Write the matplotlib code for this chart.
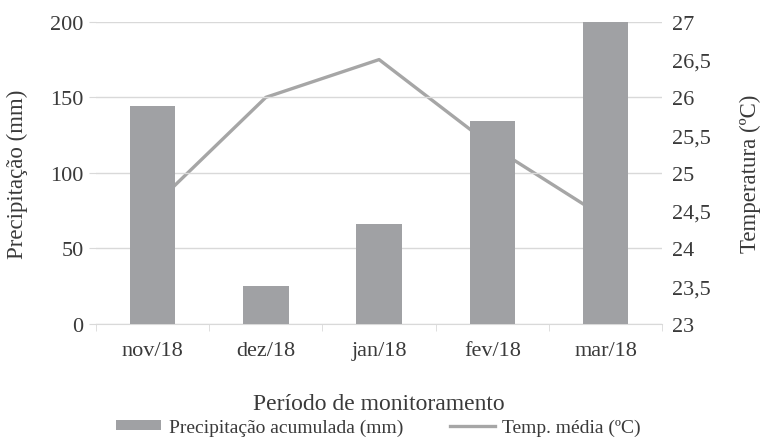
import numpy as np
import matplotlib
matplotlib.use("Agg")
import matplotlib.pyplot as plt
from matplotlib.ticker import FuncFormatter

plt.rcParams['font.family'] = ['Liberation Serif', 'DejaVu Serif']

# dados
meses = ['nov/18', 'dez/18', 'jan/18', 'fev/18', 'mar/18']
precip = [144, 25, 66, 134, 200]
temp = [24.55, 26.0, 26.5, 25.35, 24.4]

cor_barra = '#A0A1A4'
cor_linha = '#A6A6A6'
cor_texto = '#3A3A3A'

fig = plt.figure(figsize=(7.62, 4.39), dpi=100)
ax = fig.add_axes([0.126, 0.260, 0.743, 0.688])
ax2 = ax.twinx()

x = np.arange(len(meses))
ax.bar(x, precip, width=0.4, color=cor_barra, zorder=3, label='Precipitação acumulada (mm)')
ax2.plot(x, temp, color=cor_linha, lw=2.4, zorder=2, label='Temp. média (ºC)')

ax.set_zorder(ax2.get_zorder() + 1)
ax.patch.set_visible(False)

ax.set_xlim(-0.5, len(meses) - 0.5)
ax.set_ylim(0, 200)
ax.set_yticks([0, 50, 100, 150, 200])
ax2.set_ylim(23, 27)
ax2.set_yticks(np.arange(23, 27.01, 0.5))
ax2.yaxis.set_major_formatter(FuncFormatter(lambda v, p: ('%g' % v).replace('.', ',')))

ax.grid(axis='y', color='#D9D9D9', lw=1, zorder=0)
for a in (ax, ax2):
    for s in a.spines.values():
        s.set_visible(False)
ax.spines['bottom'].set_visible(True)
ax.spines['bottom'].set_color('#D9D9D9')

ax.set_xticks(x)
ax.set_xticklabels(meses)
ax.set_xticks(np.arange(-0.5, len(meses), 1), minor=True)
ax.tick_params(axis='x', which='major', length=0, labelsize=16, colors=cor_texto, pad=12)
ax.tick_params(axis='x', which='minor', length=5, color='#D9D9D9')
ax.tick_params(axis='y', length=5, color='#D9D9D9', labelsize=16, labelcolor=cor_texto, pad=4)
ax2.tick_params(axis='y', length=0, labelsize=16, labelcolor=cor_texto, pad=7)

ax.set_ylabel('Precipitação (mm)', fontsize=16.5, color=cor_texto, va='center')
ax.yaxis.set_label_coords(-0.138, 0.5)
ax2.set_ylabel('Temperatura (ºC)', fontsize=16.5, color=cor_texto, va='center')
ax2.yaxis.set_label_coords(1.155, 0.5)
ax.set_xlabel('Período de monitoramento', fontsize=17, color=cor_texto, va='center')
ax.xaxis.set_label_coords(0.5, -0.265)

h1, l1 = ax.get_legend_handles_labels()
h2, l2 = ax2.get_legend_handles_labels()
fig.legend(h1 + h2, l1 + l2, loc='center', bbox_to_anchor=(0.497, 0.024), ncol=2,
           frameon=False, fontsize=14, handlelength=2.3, handleheight=0.45,
           handletextpad=0.4, columnspacing=2.4, labelcolor=cor_texto, borderpad=0)

fig.savefig('out.png', dpi=100)
